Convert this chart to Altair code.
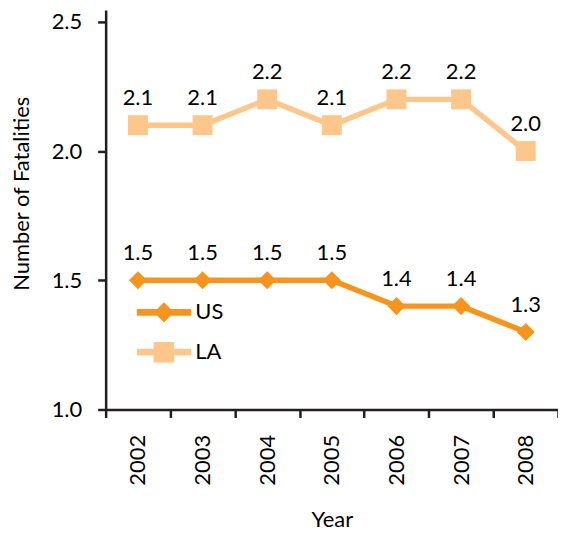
import altair as alt
import pandas as pd

years = ["2002", "2003", "2004", "2005", "2006", "2007", "2008"]
us_values = [1.5, 1.5, 1.5, 1.5, 1.4, 1.4, 1.3]
la_values = [2.1, 2.1, 2.2, 2.1, 2.2, 2.2, 2.0]
series_names = ["US", "LA"]
series_colors = ["#F7941E", "#FDC68A"]

rows = []
for y, v in zip(years, us_values):
    rows.append({"Year": y, "series": "US", "value": v})
for y, v in zip(years, la_values):
    rows.append({"Year": y, "series": "LA", "value": v})
df = pd.DataFrame(rows)

FONT = "Lato"
AX = "#231F20"

x_enc = alt.X("Year:N", bandPosition=0.5,
              scale=alt.Scale(type="band", domain=years, paddingInner=0, paddingOuter=0),
              axis=alt.Axis(title="Year", labelAngle=-90, tickBand="extent",
                            labelPadding=17, titlePadding=24))
y_enc = alt.Y("value:Q",
              scale=alt.Scale(domain=[1.0, 2.546], nice=False, zero=False),
              axis=alt.Axis(title="Number of Fatalities", values=[1.0, 1.5, 2.0, 2.5],
                            format=".1f", grid=False, labelPadding=16, titlePadding=18,
                            titleY=184))
color_scale = alt.Scale(domain=series_names, range=series_colors)
color_nolegend = alt.Color("series:N", scale=color_scale, legend=None)

base = alt.Chart(df)

us_path = "M-1,-0.1L1,-0.1L1,0.1L-1,0.1Z M-0.34,0L0,-0.34L0.34,0L0,0.34Z"
la_path = "M-1,-0.1L1,-0.1L1,0.1L-1,0.1Z M-0.36,-0.36L0.36,-0.36L0.36,0.36L-0.36,0.36Z"

leg = alt.Legend(title=None, orient="none", legendX=31, legendY=276,
                 symbolSize=2809, rowPadding=-6, labelOffset=4,
                 labelFontSize=22, labelFont=FONT, padding=0,
                 symbolOpacity=1)

# invisible layer that only carries the legend (line + marker symbols)
legend_layer = base.mark_point(filled=True).encode(
    x=x_enc, y=y_enc,
    opacity=alt.value(0),
    color=alt.Color("series:N", scale=color_scale, legend=leg),
    shape=alt.Shape("series:N", scale=alt.Scale(domain=series_names, range=[us_path, la_path]),
                    legend=leg),
)

lines = base.mark_line(strokeWidth=5.5).encode(x=x_enc, y=y_enc, color=color_nolegend,
                                               detail="series:N")
us_pts = base.transform_filter(alt.datum.series == "US").mark_point(
    shape="diamond", filled=True, size=330, opacity=1).encode(x=x_enc, y=y_enc, color=color_nolegend)
la_pts = base.transform_filter(alt.datum.series == "LA").mark_point(
    shape="square", filled=True, size=400, opacity=1).encode(x=x_enc, y=y_enc, color=color_nolegend)
labels = base.mark_text(dy=-27, fontSize=22, font=FONT, color="black").encode(
    x=x_enc, y=y_enc, text=alt.Text("value:Q", format=".1f"))

chart = alt.layer(legend_layer, lines, us_pts, la_pts, labels).properties(
    width=454, height=401,
    autosize=alt.AutoSizeParams(type="none"),
    padding={"left": 98, "top": 1, "right": 0, "bottom": 126},
).configure_view(stroke=None).configure_axis(
    domainColor=AX, domainWidth=2.5, tickColor=AX, tickWidth=2.5, tickSize=8,
    labelFont=FONT, labelFontSize=22, labelColor="black",
    titleFont=FONT, titleFontSize=22, titleFontWeight="normal", titleColor="black",
).configure_legend(labelColor="black")

chart.save("out.html", embed_options={"renderer": "svg", "actions": False})
